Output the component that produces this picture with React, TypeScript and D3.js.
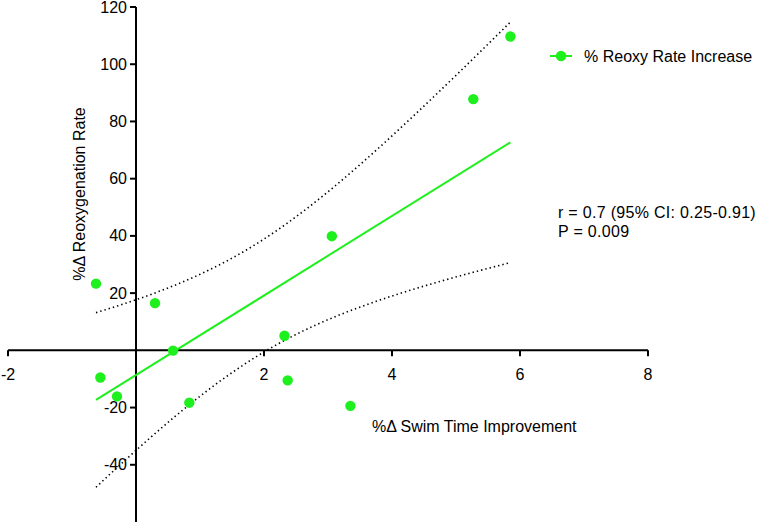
import React from "react";
import * as d3 from "d3";

const swimImprovement = [-0.625, -0.557, -0.297, 0.297, 0.578, 0.833, 2.32, 2.37, 3.06, 3.35, 5.27, 5.85];
const reoxyIncrease = [23.3, -9.5, -16.1, 16.5, -0.1, -18.3, 5.1, -10.5, 39.9, -19.4, 87.8, 109.7];
const xTicks = [-2, 2, 4, 6, 8];
const yTicks = [-40, -20, 20, 40, 60, 80, 100, 120];
const legendLabel = "% Reoxy Rate Increase";
const statLines = ["r = 0.7 (95% CI: 0.25-0.91)", "P = 0.009"];
const xTitle = "%\u0394 Swim Time Improvement";
const yTitle = "%\u0394  Reoxygenation Rate";
const tCrit = 2.228; // t(0.975, df=10)

const W = 760;
const H = 524;
const GREEN = "#1ef01e";
const FONT = "'Liberation Sans', Arial, Helvetica, sans-serif";

export default function App() {
  const x = d3.scaleLinear().domain([-2, 8]).range([8, 648]);
  const y = d3.scaleLinear().domain([-60, 120]).range([522, 7]);

  const pts = swimImprovement.map((v, i) => ({ x: v, y: reoxyIncrease[i] }));
  const n = pts.length;
  const xbar = d3.mean(pts, (d) => d.x) as number;
  const ybar = d3.mean(pts, (d) => d.y) as number;
  const sxx = d3.sum(pts, (d) => (d.x - xbar) ** 2);
  const sxy = d3.sum(pts, (d) => (d.x - xbar) * (d.y - ybar));
  const syy = d3.sum(pts, (d) => (d.y - ybar) ** 2);
  const slope = sxy / sxx;
  const icpt = ybar - slope * xbar;
  const s = Math.sqrt((syy - (sxy * sxy) / sxx) / (n - 2));
  const [xmin, xmax] = d3.extent(pts, (d) => d.x) as [number, number];
  const samples = d3.range(0, 101).map((i) => xmin + ((xmax - xmin) * i) / 100);
  const band = samples.map((xv) => {
    const yh = icpt + slope * xv;
    const se = s * Math.sqrt(1 / n + (xv - xbar) ** 2 / sxx);
    return { x: xv, lo: yh - tCrit * se, hi: yh + tCrit * se };
  });
  const hiLine = d3.line<any>().x((d) => x(d.x)).y((d) => y(d.hi))(band) as string;
  const loLine = d3.line<any>().x((d) => x(d.x)).y((d) => y(d.lo))(band) as string;

  const x0 = x(0);
  const y0 = y(0);

  return (
    <svg
      width={W}
      height={H}
      style={{ position: "absolute", left: 0, top: 0, background: "#fff" }}
      fontFamily={FONT}
    >
      {/* CI band */}
      <path d={hiLine} fill="none" stroke="#000" strokeWidth={1.6} strokeDasharray="1.4 3" />
      <path d={loLine} fill="none" stroke="#000" strokeWidth={1.6} strokeDasharray="1.4 3" />

      {/* axes */}
      <line x1={x(-2)} x2={x(8)} y1={y0} y2={y0} stroke="#000" strokeWidth={2} />
      <line x1={x0} x2={x0} y1={y(120)} y2={y(-60)} stroke="#000" strokeWidth={2} />
      {xTicks.map((t) => (
        <g key={"xt" + t}>
          <line x1={x(t)} x2={x(t)} y1={y0} y2={y0 + 6} stroke="#000" strokeWidth={2} />
          <text x={x(t)} y={y0 + 30} textAnchor="middle" fontSize={16}>
            {t}
          </text>
        </g>
      ))}
      {yTicks.map((t) => (
        <g key={"yt" + t}>
          <line x1={x0 - 6} x2={x0} y1={y(t)} y2={y(t)} stroke="#000" strokeWidth={2} />
          <text x={x0 - 9} y={y(t)} dy="0.35em" textAnchor="end" fontSize={16}>
            {t}
          </text>
        </g>
      ))}

      {/* regression line */}
      <line
        x1={x(xmin)}
        x2={x(xmax)}
        y1={y(icpt + slope * xmin)}
        y2={y(icpt + slope * xmax)}
        stroke={GREEN}
        strokeWidth={2}
      />

      {/* points */}
      {pts.map((d, i) => (
        <circle key={i} cx={x(d.x)} cy={y(d.y)} r={5.2} fill={GREEN} />
      ))}

      {/* titles */}
      <text x={372} y={432} fontSize={16}>
        {xTitle}
      </text>
      <text transform="translate(85,194) rotate(-90)" textAnchor="middle" fontSize={16}>
        {yTitle}
      </text>

      {/* legend */}
      <line x1={550} x2={572} y1={56} y2={56} stroke={GREEN} strokeWidth={2} />
      <circle cx={561} cy={56} r={5.2} fill={GREEN} />
      <text x={584} y={62} fontSize={16}>
        {legendLabel}
      </text>

      {/* stats */}
      {statLines.map((l, i) => (
        <text key={i} x={558} y={218 + i * 19} fontSize={16} letterSpacing={0.3}>
          {l}
        </text>
      ))}
    </svg>
  );
}
